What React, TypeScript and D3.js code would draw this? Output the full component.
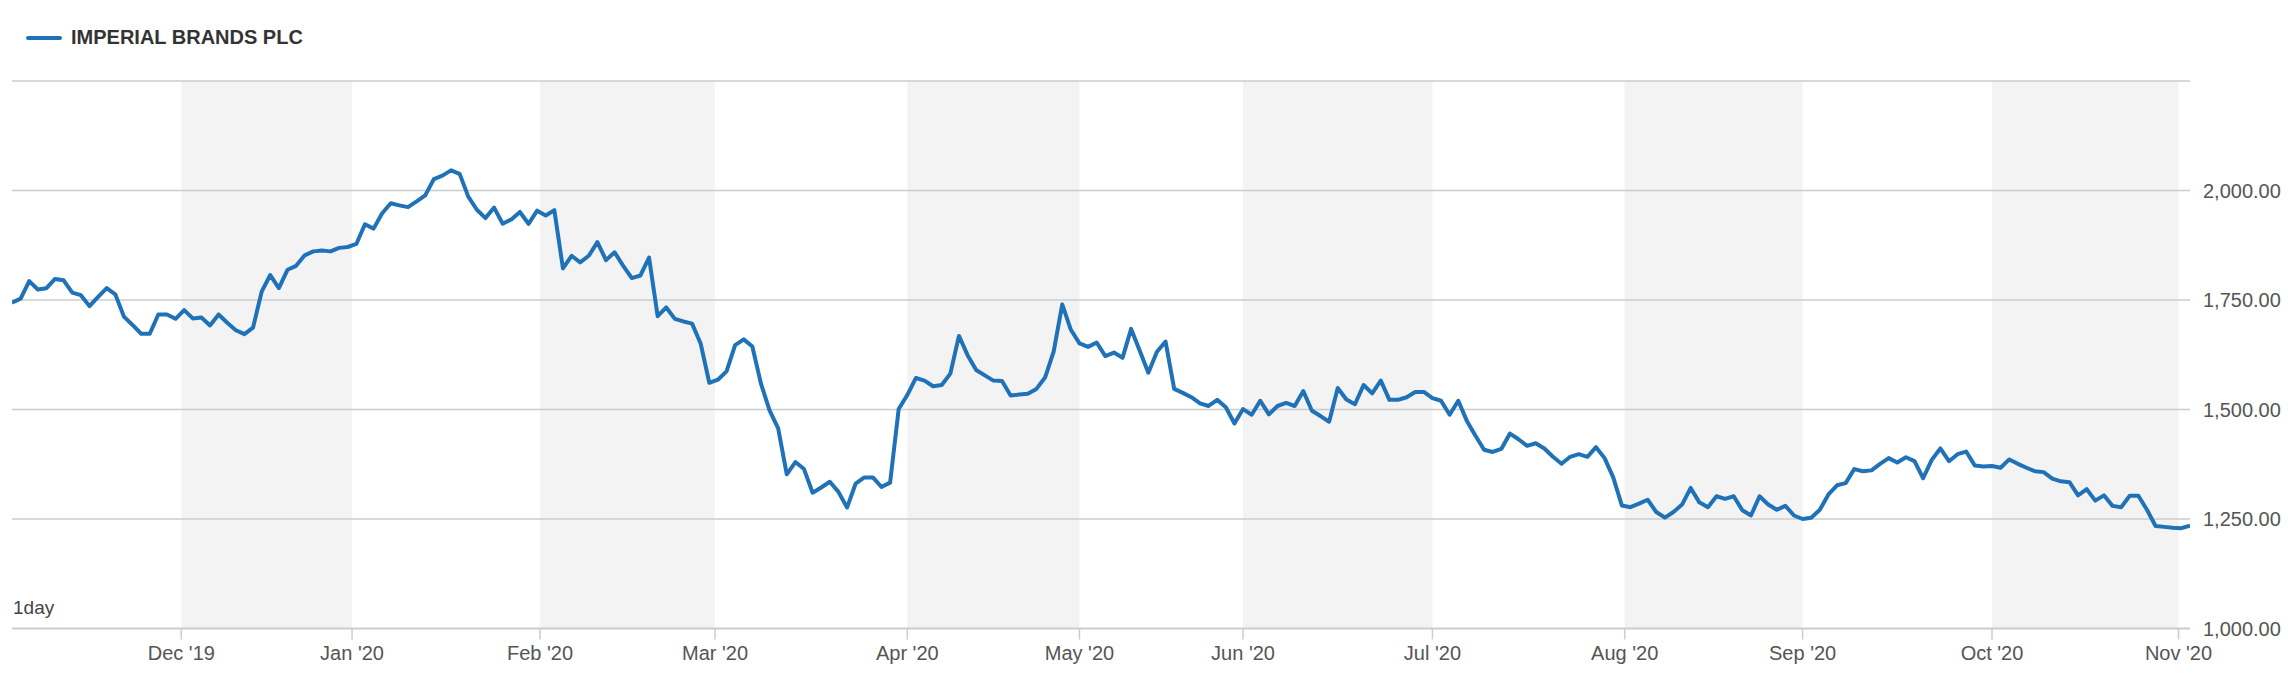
import React, { useEffect, useRef } from "react";
import * as d3 from "d3";

const seriesName = "IMPERIAL BRANDS PLC";
const intervalLabel = "1day";

// first and last trading session shown
const firstSession = new Date(2019, 10, 4);
const lastSession = new Date(2020, 10, 3);

// LSE closures inside the range
const holidays = [
  "2019-12-25",
  "2019-12-26",
  "2020-01-01",
  "2020-04-10",
  "2020-04-13",
  "2020-05-08",
  "2020-05-25",
  "2020-08-31",
];

// daily close, one per trading session
const closes = [
  1744, 1753, 1793, 1774, 1777, 1798, 1795, 1767, 1761, 1736,
  1757, 1777, 1763, 1712, 1693, 1673, 1673, 1717, 1717, 1707,
  1727, 1708, 1710, 1692, 1717, 1698, 1681, 1672, 1687, 1769,
  1807, 1777, 1819, 1828, 1852, 1861, 1863, 1861, 1869, 1871,
  1878, 1923, 1913, 1948, 1971, 1966, 1962, 1975, 1989, 2026,
  2034, 2046, 2038, 1986, 1956, 1937, 1961, 1924, 1934, 1951,
  1924, 1954, 1943, 1955, 1822, 1851, 1836, 1851, 1882, 1841,
  1859, 1828, 1800, 1806, 1847, 1713, 1733, 1707, 1701, 1696,
  1650, 1561, 1568, 1587, 1647, 1660, 1644, 1559, 1498, 1457,
  1352, 1380, 1364, 1310, 1322, 1335, 1312, 1276, 1331, 1345,
  1345, 1323, 1333, 1501, 1533, 1572, 1566, 1553, 1556, 1582,
  1668, 1624, 1590, 1578, 1566, 1565, 1532, 1534, 1536, 1547,
  1573, 1632, 1740, 1682, 1651, 1643, 1653, 1622, 1630, 1618,
  1684, 1634, 1584, 1632, 1655, 1547, 1538, 1528, 1514, 1508,
  1522, 1505, 1468, 1501, 1488, 1520, 1489, 1508, 1515, 1508,
  1542, 1497, 1485, 1472, 1549, 1523, 1512, 1556, 1537, 1566,
  1522, 1522, 1528, 1540, 1540, 1526, 1520, 1488, 1520, 1474,
  1440, 1408, 1403, 1410, 1445, 1432, 1417, 1423, 1411, 1392,
  1376, 1392, 1398, 1392, 1414, 1389, 1345, 1281, 1277, 1285,
  1294, 1266, 1253, 1266, 1283, 1321, 1288, 1277, 1302, 1296,
  1302, 1270, 1258, 1302, 1283, 1271, 1280, 1258, 1250, 1253,
  1271, 1306, 1327, 1332, 1364, 1359, 1361, 1376, 1389, 1379,
  1391, 1382, 1343, 1385, 1411, 1382, 1398, 1404, 1372, 1370,
  1371, 1367, 1386, 1376, 1367, 1359, 1357, 1342, 1336, 1334,
  1304, 1318, 1292, 1304, 1280, 1277, 1303, 1303, 1271, 1234,
  1232, 1230, 1229, 1235,
];

const yTicks = [1000, 1250, 1500, 1750, 2000, 2250];
const shadedMonths = [11, 1, 3, 5, 7, 9];

const W = 2288;
const H = 680;
const FONT = "'Liberation Sans', Arial, Helvetica, sans-serif";

const App: React.FC = () => {
  const svgRef = useRef<SVGSVGElement | null>(null);

  useEffect(() => {
    if (!svgRef.current) return;
    const svg = d3.select(svgRef.current);
    svg.selectAll("*").remove();

    const left = 12;
    const right = 2190;
    const top = 81;
    const bottom = 628.5;

    const iso = d3.timeFormat("%Y-%m-%d");
    const sessions = d3.timeDay
      .range(firstSession, d3.timeDay.offset(lastSession, 1))
      .filter((d) => d.getDay() !== 0 && d.getDay() !== 6 && !holidays.includes(iso(d)));
    const n = Math.min(sessions.length, closes.length);
    const days = sessions.slice(0, n);
    const values = closes.slice(0, n);

    // ordinal axis: every session gets the same width
    const xIndex = d3.scaleLinear().domain([0, n - 1]).range([left, right]);
    const x = d3
      .scaleTime()
      .domain(days)
      .range(days.map((_, i) => xIndex(i)))
      .clamp(true);
    const y = d3.scaleLinear().domain([1000, 2250]).range([bottom, top]);

    svg.append("rect").attr("width", W).attr("height", H).attr("fill", "#ffffff");

    const months = d3.timeMonth.range(new Date(2019, 11, 1), new Date(2020, 10, 2));

    // alternate month bands
    months.forEach((m, i) => {
      if (!shadedMonths.includes(m.getMonth())) return;
      const x0 = x(m);
      const x1 = i + 1 < months.length ? x(months[i + 1]) : right;
      svg
        .append("rect")
        .attr("x", x0)
        .attr("y", top)
        .attr("width", x1 - x0)
        .attr("height", bottom - top)
        .attr("fill", "#f3f3f3");
    });

    // horizontal grid
    svg
      .append("g")
      .selectAll("line")
      .data(yTicks)
      .join("line")
      .attr("x1", left)
      .attr("x2", right)
      .attr("y1", (d) => y(d))
      .attr("y2", (d) => y(d))
      .attr("stroke", "#cccccc")
      .attr("stroke-width", (d) => (d === 1000 ? 2 : 1.5));

    // right value labels
    const fmt = d3.format(",.2f");
    svg
      .append("g")
      .selectAll("text")
      .data(yTicks.filter((d) => d < 2250))
      .join("text")
      .attr("x", 2203)
      .attr("y", (d) => y(d))
      .attr("dy", "0.36em")
      .attr("font-family", FONT)
      .attr("font-size", 20)
      .attr("fill", "#555555")
      .text((d) => fmt(d));

    // month ticks + labels
    const monthFmt = d3.timeFormat("%b '%y");
    const tickG = svg.append("g");
    months.forEach((m) => {
      const tx = x(m);
      tickG
        .append("line")
        .attr("x1", tx)
        .attr("x2", tx)
        .attr("y1", bottom)
        .attr("y2", bottom + 11)
        .attr("stroke", "#cccccc")
        .attr("stroke-width", 1.5);
      tickG
        .append("text")
        .attr("x", tx)
        .attr("y", 660)
        .attr("text-anchor", "middle")
        .attr("font-family", FONT)
        .attr("font-size", 20)
        .attr("fill", "#555555")
        .text(monthFmt(m));
    });

    svg
      .append("text")
      .attr("x", 13)
      .attr("y", 614)
      .attr("font-family", FONT)
      .attr("font-size", 19)
      .attr("fill", "#444444")
      .text(intervalLabel);

    // price line
    svg
      .append("clipPath")
      .attr("id", "plot-clip")
      .append("rect")
      .attr("x", left)
      .attr("y", top - 10)
      .attr("width", right - left)
      .attr("height", bottom - top + 20);

    const line = d3
      .line<number>()
      .x((_, i) => xIndex(i))
      .y((d) => y(d));

    svg
      .append("path")
      .datum(values)
      .attr("clip-path", "url(#plot-clip)")
      .attr("fill", "none")
      .attr("stroke", "#1f72b8")
      .attr("stroke-width", 4)
      .attr("stroke-linejoin", "round")
      .attr("d", line);

    // legend
    svg
      .append("line")
      .attr("x1", 28)
      .attr("x2", 60)
      .attr("y1", 38)
      .attr("y2", 38)
      .attr("stroke", "#1f72b8")
      .attr("stroke-width", 4)
      .attr("stroke-linecap", "round");
    svg
      .append("text")
      .attr("x", 71)
      .attr("y", 44)
      .attr("font-family", FONT)
      .attr("font-size", 20)
      .attr("font-weight", "bold")
      .attr("fill", "#333333")
      .text(seriesName);
  }, []);

  return (
    <svg
      ref={svgRef}
      width={W}
      height={H}
      style={{ position: "absolute", left: 0, top: 0, display: "block" }}
    />
  );
};

export default App;
